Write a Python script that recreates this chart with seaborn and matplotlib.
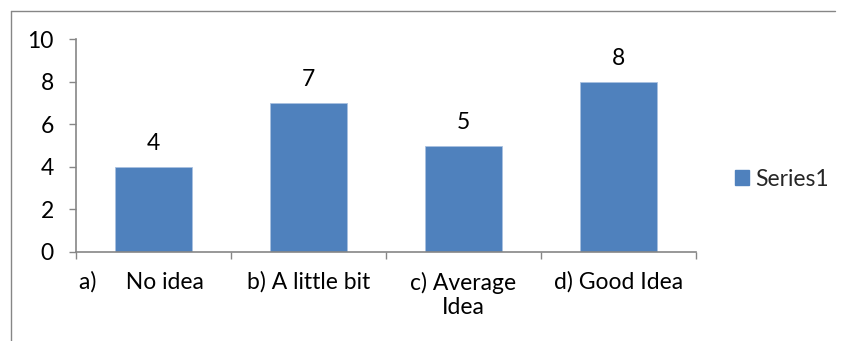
import matplotlib
matplotlib.use("Agg")
import matplotlib.pyplot as plt
from matplotlib.lines import Line2D
from matplotlib.patches import Patch
from matplotlib.transforms import ScaledTranslation
import seaborn as sns
import pandas as pd

categories = ["a)     No idea", "b) A little bit", "c) Average\nIdea", "d) Good Idea"]
values = [4, 7, 5, 8]
series_name = "Series1"
yticks = [0, 2, 4, 6, 8, 10]

df = pd.DataFrame({"category": categories, "value": values})

sns.set_theme(style="white")
plt.rcParams["font.family"] = ["Lato", "DejaVu Sans"]

bar_color = "#4F81BD"
axis_color = "#868686"
fs = 16.5

fig = plt.figure(figsize=(8.44, 3.41), dpi=100)
ax = fig.add_axes([76 / 844, 1 - 252 / 341, 620 / 844, 213 / 341])

sns.barplot(data=df, x="category", y="value", color=bar_color, width=0.5,
            saturation=1, edgecolor="#a9c1e0", linewidth=0.6, ax=ax)

ax.set_xlim(-0.5, len(categories) - 0.5)
ax.set_ylim(0, 10)
ax.set_yticks(yticks)
ax.set_yticklabels([str(t) for t in yticks], fontsize=fs, color="black")
ax.set_xlabel("")
ax.set_ylabel("")

# value labels above each bar
for i, v in enumerate(values):
    ax.annotate(str(v), (i, v), xytext=(0, 16.5), textcoords="offset points",
                ha="center", va="center", fontsize=fs, color="black")

# category ticks sit on the boundaries between bars
ax.set_xticks([i - 0.5 for i in range(len(categories) + 1)], minor=False)
ax.set_xticklabels([])
ax.set_xticks(range(len(categories)), minor=True)
ax.set_xticklabels(categories, minor=True, fontsize=fs, color="black",
                   linespacing=1.2)
ax.tick_params(axis="x", which="minor", length=0, pad=14)
ax.tick_params(axis="x", which="major", length=5, width=1, color=axis_color,
               direction="out", bottom=True)
ax.tick_params(axis="y", length=5, width=1, color=axis_color, direction="out",
               left=True, pad=11)

first = ax.get_xticklabels(minor=True)[0]
first.set_transform(first.get_transform() +
                    ScaledTranslation(-12 / 100, 0, fig.dpi_scale_trans))

for side in ["top", "right"]:
    ax.spines[side].set_visible(False)
for side in ["left", "bottom"]:
    ax.spines[side].set_color(axis_color)
    ax.spines[side].set_linewidth(1.2)

handle = Patch(facecolor=bar_color, edgecolor=bar_color)
fig.legend([handle], [series_name], loc="center left",
           bbox_to_anchor=(735 / 844, 1 - 179 / 341), frameon=False,
           fontsize=fs, handlelength=0.6, handleheight=0.6,
           handletextpad=0.3, borderaxespad=0, borderpad=0)

# chart area border (left and top edges)
fig.add_artist(Line2D([11 / 844, 11 / 844], [0, 1 - 10.5 / 341],
                      transform=fig.transFigure, color=axis_color, lw=1))
fig.add_artist(Line2D([11 / 844, 835 / 844], [1 - 10.5 / 341, 1 - 10.5 / 341],
                      transform=fig.transFigure, color=axis_color, lw=1))

fig.savefig("out.png", dpi=100, facecolor="white")
